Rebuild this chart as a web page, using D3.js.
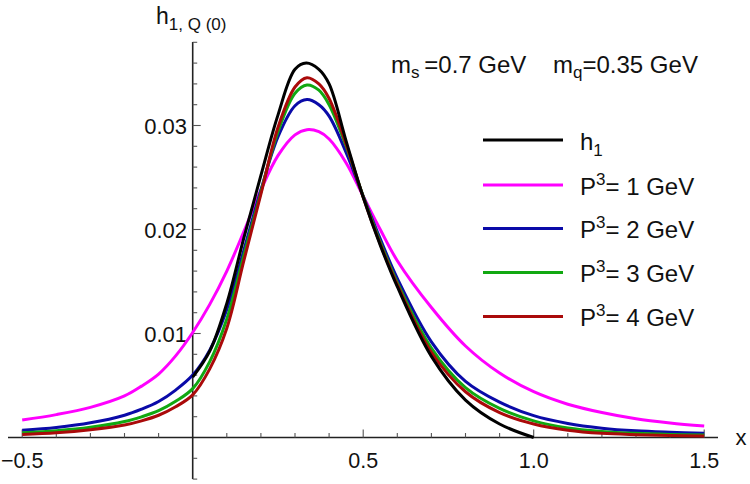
<!DOCTYPE html>
<html>
<head>
<meta charset="utf-8">
<script src="https://cdn.jsdelivr.net/npm/d3@7"></script>
<style>
  body { margin: 0; background: #fff; }
  text { font-family: "Liberation Sans", Arial, sans-serif; }
</style>
</head>
<body>
<div id="viz"></div>
<script>
var width = 750,
    height = 484;

// x grids
var xsFull = [-0.5, -0.4, -0.3, -0.2, -0.15, -0.1, -0.05, 0, 0.05, 0.1, 0.15, 0.2, 0.25, 0.3, 0.335, 0.37, 0.4, 0.45, 0.5, 0.55, 0.6, 0.7, 0.8, 0.9, 1.0, 1.1, 1.2, 1.3, 1.4, 1.5];
var xsH1 = [0, 0.05, 0.1, 0.15, 0.2, 0.25, 0.3, 0.333, 0.37, 0.4, 0.45, 0.5, 0.55, 0.6, 0.7, 0.8, 0.9, 1.0];

// values
var h1 = [0.0058, 0.0083, 0.0129, 0.0192, 0.0252, 0.0310, 0.0354, 0.0360, 0.0354, 0.0340, 0.0285, 0.0231, 0.0185, 0.0145, 0.0078, 0.0036, 0.0013, 0.0];
var p1 = [0.00168, 0.0022, 0.0029, 0.0040, 0.00494, 0.0061, 0.00785, 0.0101, 0.0128, 0.0160, 0.0198, 0.0238, 0.0271, 0.0291, 0.0296, 0.0294, 0.0287, 0.0264, 0.0232, 0.0200, 0.0170, 0.0125, 0.0088, 0.0062, 0.0044, 0.0032, 0.0024, 0.0018, 0.0014, 0.0011];
var p2 = [0.0007, 0.00097, 0.00141, 0.00214, 0.00272, 0.00346, 0.00456, 0.0060, 0.0084, 0.0123, 0.0180, 0.0238, 0.0289, 0.0319, 0.0325, 0.0320, 0.0309, 0.0274, 0.0232, 0.0191, 0.0153, 0.0092, 0.0054, 0.0034, 0.0021, 0.00135, 0.0009, 0.00064, 0.0005, 0.0004];
var p3 = [0.00046, 0.00065, 0.00098, 0.00153, 0.00199, 0.00258, 0.00348, 0.0047, 0.0073, 0.0114, 0.0175, 0.0236, 0.0294, 0.0331, 0.0339, 0.0334, 0.0320, 0.0280, 0.0232, 0.0188, 0.0149, 0.0086, 0.0048, 0.0028, 0.0016, 0.00092, 0.00058, 0.0004, 0.0003, 0.00024];
var p4 = [0.00028, 0.00045, 0.00075, 0.0012, 0.0016, 0.00214, 0.00296, 0.0041, 0.0066, 0.0105, 0.0170, 0.0234, 0.0298, 0.0337, 0.0346, 0.0340, 0.0326, 0.0282, 0.0231, 0.0186, 0.0147, 0.0082, 0.0044, 0.0024, 0.0013, 0.0007, 0.0004, 0.00027, 0.00019, 0.00014];

var xTicks = [-0.5, 0.5, 1.0, 1.5];
var yTicks = [0.01, 0.02, 0.03];
var legendLabels = ['h1', '1', '2', '3', '4'];

var svg = d3.select('#viz')
  .append('svg')
  .attr('width', width)
  .attr('height', height)
  .style('background', '#fff');

var x = d3.scaleLinear().domain([-0.5, 1.5]).range([22.2, 704.2]);
var y = d3.scaleLinear().domain([0, 0.01]).range([437.5, 333.5]);

var tickCol = '#555';

// x axis line
svg.append('line')
  .attr('x1', 8).attr('x2', 718)
  .attr('y1', y(0)).attr('y2', y(0))
  .attr('stroke', '#222').attr('stroke-width', 1.6);

// x ticks (minor every 0.1, major at labels)
var xMinor = d3.range(-5, 16).map(function(i) { return i / 10; }).filter(function(d) { return d !== 0; });
svg.selectAll('.xtick')
  .data(xMinor)
  .enter().append('line')
  .attr('x1', function(d) { return x(d); })
  .attr('x2', function(d) { return x(d); })
  .attr('y1', y(0))
  .attr('y2', function(d) { return y(0) - (Math.abs(d * 2 - Math.round(d * 2)) < 1e-9 ? 8 : 4.5); })
  .attr('stroke', tickCol).attr('stroke-width', 1.1);

svg.selectAll('.xlab')
  .data(xTicks)
  .enter().append('text')
  .attr('x', function(d) { return x(d); })
  .attr('y', 467.5)
  .attr('text-anchor', 'middle')
  .style('font-size', '21.5px')
  .attr('fill', '#111')
  .text(function(d) { return d < 0 ? '\u2212' + d3.format('.1f')(-d) : d3.format('.1f')(d); });

svg.append('text')
  .attr('x', 741).attr('y', 445)
  .attr('text-anchor', 'middle')
  .style('font-size', '22px')
  .attr('fill', '#111')
  .text('x');

// y axis line
svg.append('line')
  .attr('x1', x(0)).attr('x2', x(0))
  .attr('y1', 42).attr('y2', 479)
  .attr('stroke', '#222').attr('stroke-width', 1.6);

var yMinor = d3.range(-2, 20).map(function(i) { return i * 0.002; }).filter(function(d) { return Math.abs(d) > 1e-9; });
svg.selectAll('.ytick')
  .data(yMinor)
  .enter().append('line')
  .attr('x1', x(0))
  .attr('x2', function(d) { return x(0) + (Math.abs(d * 100 - Math.round(d * 100)) < 1e-6 ? 8 : 4.5); })
  .attr('y1', function(d) { return y(d); })
  .attr('y2', function(d) { return y(d); })
  .attr('stroke', tickCol).attr('stroke-width', 1.1);

svg.selectAll('.ylab')
  .data(yTicks)
  .enter().append('text')
  .attr('x', 187)
  .attr('y', function(d) { return y(d) + 8; })
  .attr('text-anchor', 'end')
  .style('font-size', '22px')
  .attr('fill', '#111')
  .text(function(d) { return d3.format('.2f')(d); });

// y axis label h_{1,Q(0)}
var yl = svg.append('text')
  .attr('x', 156).attr('y', 24)
  .attr('fill', '#111')
  .style('font-size', '23px');
yl.append('tspan').text('h');
yl.append('tspan').attr('dy', 6).style('font-size', '17px').text('1, Q (0)');

// annotation
var ann = svg.append('text')
  .attr('x', 391).attr('y', 73)
  .attr('fill', '#111')
  .style('font-size', '24px');
ann.append('tspan').text('m');
ann.append('tspan').attr('dy', 5).style('font-size', '17px').text('s');
ann.append('tspan').attr('dy', -5).text('\u2009=0.7 GeV');
ann.append('tspan').attr('x', 553).text('m');
ann.append('tspan').attr('dy', 5).style('font-size', '17px').text('q');
ann.append('tspan').attr('dy', -5).text('=0.35 GeV');

// curves
var line = d3.line()
  .x(function(d) { return x(d[0]); })
  .y(function(d) { return y(d[1]); })
  .curve(d3.curveCatmullRom.alpha(0.5));

var series = [
  { xs: xsFull, ys: p1, color: '#ff00ff' },
  { xs: xsFull, ys: p2, color: '#0a0aa8' },
  { xs: xsFull, ys: p3, color: '#11a811' },
  { xs: xsFull, ys: p4, color: '#aa0a0a' },
  { xs: xsH1, ys: h1, color: '#000000' }
];

svg.selectAll('.curve')
  .data(series)
  .enter().append('path')
  .attr('d', function(s) { return line(s.xs.map(function(v, i) { return [v, s.ys[i]]; })); })
  .attr('fill', 'none')
  .attr('stroke', function(s) { return s.color; })
  .attr('stroke-width', 3);

// legend
var legColors = ['#000000', '#ff00ff', '#0a0aa8', '#11a811', '#aa0a0a'];
var legY = [140, 185, 228.5, 272.5, 316.5];
var leg = svg.selectAll('.leg')
  .data(legendLabels)
  .enter().append('g')
  .attr('transform', function(d, i) { return 'translate(0,' + legY[i] + ')'; });

leg.append('line')
  .attr('x1', 483).attr('x2', 563)
  .attr('stroke', function(d, i) { return legColors[i]; })
  .attr('stroke-width', 3);

leg.each(function(d, i) {
  var t = d3.select(this).append('text')
    .attr('x', 580).attr('y', 9.5)
    .attr('fill', '#111')
    .style('font-size', '24px');
  if (i === 0) {
    t.append('tspan').text('h');
    t.append('tspan').attr('dy', 6).style('font-size', '17px').text('1');
  } else {
    t.append('tspan').text('P');
    t.append('tspan').attr('dy', -10).style('font-size', '17px').text('3');
    t.append('tspan').attr('dy', 10).text('= ' + d + ' GeV');
  }
});
</script>
</body>
</html>
